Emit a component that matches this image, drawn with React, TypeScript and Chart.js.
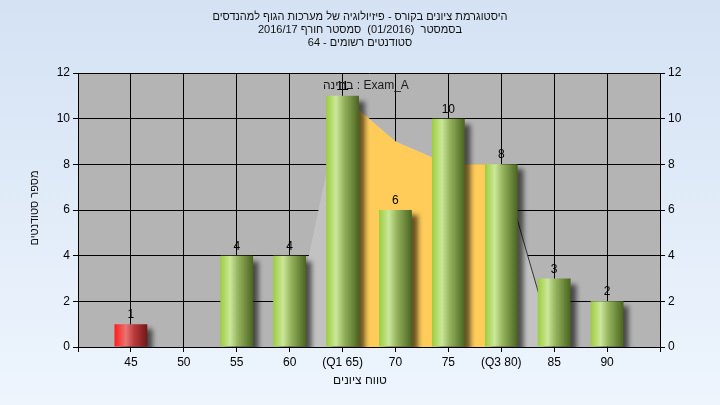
import React, { useEffect, useRef } from "react";
import { Chart, registerables } from "chart.js";

Chart.register(...registerables);

const categories = ["", "45", "50", "55", "60", "65", "70", "75", "80", "85", "90", ""];
const tickLabels = ["", "45", "50", "55", "60", "(Q1 65)", "70", "75", "(Q3 80)", "85", "90", ""];
const counts = [null, 1, 0, 4, 4, 11, 6, 10, 8, 3, 2, null];
const curveGray = [null, null, null, null, 0, 11, 9, 8, 8, 0, null, null];
const curveIqr = [null, null, null, null, null, 11, 9, 8, 8, null, null, null];
const failIndex = [1];
const titleLines = [
  "היסטוגרמת ציונים בקורס - פיזיולוגיה של מערכות הגוף למהנדסים",
  "בסמסטר  (01/2016)  סמסטר חורף 2016/17",
  "סטודנטים רשומים - 64",
];
const xTitle = "טווח ציונים";
const yTitle = "מספר סטודנטים";
const examLabel = "בחינה : Exam_A";

const FONT = '"Liberation Sans", Arial, sans-serif';

export default function App() {
  const ref = useRef<HTMLCanvasElement | null>(null);
  useEffect(() => {
    const canvas = ref.current;
    if (!canvas) return;

    const bgPlugin = {
      id: "bg",
      beforeDraw(chart: any) {
        const { ctx, width, height, chartArea } = chart;
        ctx.save();
        const g = ctx.createLinearGradient(0, 0, 0, height);
        g.addColorStop(0, "#d4e2f4");
        g.addColorStop(1, "#eef5fd");
        ctx.fillStyle = g;
        ctx.fillRect(0, 0, width, height);
        ctx.fillStyle = "#b4b4b4";
        ctx.fillRect(chartArea.left, chartArea.top, chartArea.right - chartArea.left, chartArea.bottom - chartArea.top);
        ctx.restore();
      },
    };

    const shadowPlugin = {
      id: "barShadow",
      beforeDatasetDraw(chart: any, args: any) {
        if (args.meta.type === "bar") {
          const ctx = chart.ctx;
          ctx.save();
          ctx.shadowColor = "rgba(0,0,0,0.6)";
          ctx.shadowBlur = 5;
          ctx.shadowOffsetX = 6;
          ctx.shadowOffsetY = 5;
        }
      },
      afterDatasetDraw(chart: any, args: any) {
        if (args.meta.type === "bar") chart.ctx.restore();
      },
    };

    const textPlugin = {
      id: "texts",
      afterDatasetsDraw(chart: any) {
        const ctx = chart.ctx;
        ctx.save();
        ctx.fillStyle = "#000";
        ctx.font = `12px ${FONT}`;
        ctx.textAlign = "center";
        ctx.textBaseline = "alphabetic";
        chart.data.datasets.forEach((ds: any, di: number) => {
          const meta = chart.getDatasetMeta(di);
          if (meta.type !== "bar") return;
          meta.data.forEach((el: any, i: number) => {
            const v = ds.data[i];
            if (v == null || v === 0) return;
            ctx.fillText(String(v), el.x, el.y - 6);
          });
        });
        ctx.textAlign = "left";
        ctx.textBaseline = "middle";
        ctx.fillStyle = "#1a1a1a";
        ctx.fillText(examLabel, 323, 86);
        ctx.restore();
      },
      afterDraw(chart: any) {
        const ctx = chart.ctx;
        ctx.save();
        ctx.fillStyle = "#111";
        ctx.font = `11px ${FONT}`;
        ctx.textAlign = "center";
        ctx.textBaseline = "middle";
        titleLines.forEach((t, i) => ctx.fillText(t, 360, 17 + i * 13));
        ctx.font = `12px ${FONT}`;
        ctx.fillText(xTitle, 360, 381);
        ctx.font = `11px ${FONT}`;
        ctx.translate(35, 208);
        ctx.rotate(-Math.PI / 2);
        ctx.fillText(yTitle, 0, 0);
        ctx.restore();
      },
    };

    const barColor = (c: any) => {
      const chart = c.chart;
      const xs = chart.scales && chart.scales.x;
      const isFail = failIndex.includes(c.dataIndex);
      if (!xs || c.dataIndex == null || !chart.chartArea) return isFail ? "#e33" : "#8fb84a";
      const cx = xs.getPixelForValue(c.dataIndex);
      const step = Math.abs(xs.getPixelForValue(1) - xs.getPixelForValue(0));
      const w = step * 0.62;
      const g = chart.ctx.createLinearGradient(cx - w / 2, 0, cx + w / 2, 0);
      if (isFail) {
        g.addColorStop(0, "#ff1c1c");
        g.addColorStop(0.35, "#e87474");
        g.addColorStop(0.6, "#b83a3a");
        g.addColorStop(1, "#701818");
      } else {
        g.addColorStop(0, "#9ccd3e");
        g.addColorStop(0.3, "#cbe79a");
        g.addColorStop(0.55, "#94b25c");
        g.addColorStop(1, "#4a6420");
      }
      return g;
    };

    const chart = new Chart(canvas, {
      type: "bar",
      data: {
        labels: categories,
        datasets: [
          {
            type: "bar",
            data: counts as any,
            backgroundColor: barColor as any,
            borderWidth: 0,
            barPercentage: 0.62,
            categoryPercentage: 1,
            order: 0,
          },
          {
            type: "line",
            data: curveIqr as any,
            backgroundColor: "#ffcc5a",
            borderColor: "rgba(0,0,0,0)",
            borderWidth: 0,
            pointRadius: 0,
            fill: "origin",
            tension: 0,
            spanGaps: false,
            order: 1,
          },
          {
            type: "line",
            data: curveGray as any,
            backgroundColor: "#c2c2c2",
            borderColor: "rgba(0,0,0,0)",
            borderWidth: 1,
            segment: {
              borderColor: (s: any) => (s.p0DataIndex === 8 ? "#333" : "rgba(0,0,0,0)"),
            },
            pointRadius: 0,
            fill: "origin",
            tension: 0,
            spanGaps: false,
            order: 2,
          },
        ],
      },
      options: {
        animation: false,
        responsive: false,
        maintainAspectRatio: false,
        layout: { padding: { top: 73, left: 0, right: 0, bottom: 0 } },
        plugins: {
          legend: { display: false },
          tooltip: { enabled: false },
          title: { display: false },
        },
        scales: {
          x: {
            type: "category",
            offset: false,
            grid: { color: "#000", lineWidth: 1, tickLength: 5, drawOnChartArea: true, offset: false },
            border: { color: "#000", width: 1 },
            ticks: {
              autoSkip: false,
              maxRotation: 0,
              minRotation: 0,
              padding: 3,
              color: "#000",
              font: { family: FONT, size: 12 },
              callback: (_v: any, i: number) => tickLabels[i],
            },
            afterFit: (s: any) => {
              s.height = 58;
            },
          },
          y: {
            position: "left",
            min: 0,
            max: 12,
            grid: { color: "#000", lineWidth: 1, tickLength: 5 },
            border: { color: "#000", width: 1 },
            ticks: { stepSize: 2, padding: 3, color: "#000", font: { family: FONT, size: 12 } },
            afterFit: (s: any) => {
              s.width = 78;
            },
          },
          y2: {
            position: "right",
            min: 0,
            max: 12,
            grid: { drawOnChartArea: false, color: "#000", tickLength: 5 },
            border: { color: "#000", width: 1 },
            ticks: { stepSize: 2, padding: 3, color: "#000", font: { family: FONT, size: 12 } },
            afterFit: (s: any) => {
              s.width = 60;
            },
          },
        },
      },
      plugins: [bgPlugin, shadowPlugin, textPlugin],
    } as any);

    return () => chart.destroy();
  }, []);

  return (
    <div style={{ position: "fixed", left: 0, top: 0, width: 720, height: 405 }}>
      <canvas ref={ref} width={720} height={405} style={{ width: 720, height: 405, display: "block" }} />
    </div>
  );
}
